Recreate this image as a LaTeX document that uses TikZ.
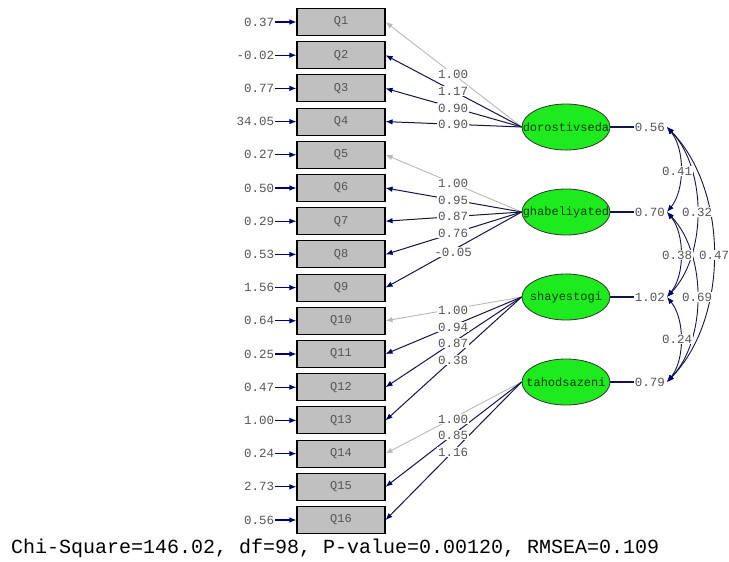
\documentclass[tikz,border=0pt]{standalone}
\usepackage{fontspec}
\newfontfamily\mono{Liberation Mono}
\usetikzlibrary{arrows.meta,shapes.geometric}
\definecolor{navy}{RGB}{0,0,110}
\definecolor{lnk}{RGB}{20,20,70}
\definecolor{lgray}{RGB}{185,185,185}
\definecolor{txtgray}{RGB}{85,85,85}
\definecolor{boxgray}{RGB}{192,192,192}
\definecolor{lvgreen}{RGB}{30,235,30}
\definecolor{lvtext}{RGB}{10,60,10}
\begin{document}
\begin{tikzpicture}[x=1pt,y=-1pt,
  obs/.style={draw=black,line width=1.1pt,fill=boxgray,minimum width=88pt,minimum height=27pt,inner sep=0pt,font=\mono\fontsize{12}{12}\selectfont,text=txtgray},
  lat/.style={draw=black!80,line width=0.8pt,fill=lvgreen,ellipse,minimum width=88pt,minimum height=46pt,inner sep=0pt,font=\mono\fontsize{12}{12}\selectfont,text=lvtext},
  num/.style={font=\mono\fontsize{12.5}{13}\selectfont,text=txtgray,inner sep=0.6pt},
  lab/.style={num,fill=white},
  load/.style={draw=lnk,line width=1pt,-{Latex[length=7pt,width=5.5pt,color=navy]}},
  fixed/.style={draw=lgray,line width=0.9pt,-{Latex[length=7pt,width=5.5pt,color=lgray]}},
  err/.style={draw=navy,line width=1.1pt,-{Latex[length=7pt,width=5.5pt,color=navy]}},
  cov/.style={draw=lnk,line width=0.9pt,{Latex[length=7pt,width=5.5pt,color=navy]}-{Latex[length=7pt,width=5.5pt,color=navy]}},
  var/.style={draw=lnk,line width=1.1pt}
]
\useasboundingbox (0,0) rectangle (729,562);
\fill[white] (0,0) rectangle (729,562);

% observed variables
\foreach \i/\e in {1/0.37,2/-0.02,3/0.77,4/34.05,5/0.27,6/0.50,7/0.29,8/0.53,9/1.56,10/0.64,11/0.25,12/0.47,13/1.00,14/0.24,15/2.73,16/0.56}{
  \pgfmathsetmacro{\yy}{22+33.2*(\i-1)}
  \node[obs] (Q\i) at (341,\yy) {Q\i};
  \node[num,anchor=east] (e\i) at (275,\yy) {\e};
  \draw[err] (e\i.east) -- (Q\i.west);
}

% latent variables
\node[lat] (F1) at (566,127) {\makebox[0pt]{dorostivseda}};
\node[lat] (F2) at (566,212) {\makebox[0pt]{ghabeliyated}};
\node[lat] (F3) at (566,297) {\makebox[0pt]{shayestogi}};
\node[lat] (F4) at (566,382) {\makebox[0pt]{tahodsazeni}};

% loadings
\draw[fixed] (F1.west) -- (Q1.east);
\foreach \q in {2,3,4}{\draw[load] (F1.west) -- (Q\q.east);}
\draw[fixed] (F2.west) -- (Q5.east);
\foreach \q in {6,7,8,9}{\draw[load] (F2.west) -- (Q\q.east);}
\draw[fixed] (F3.west) -- (Q10.east);
\foreach \q in {11,12,13}{\draw[load] (F3.west) -- (Q\q.east);}
\draw[fixed] (F4.west) -- (Q14.east);
\foreach \q in {15,16}{\draw[load] (F4.west) -- (Q\q.east);}

% loading labels
\node[lab] (l1) at (453,74) {1.00};
\node[lab] (l2) at (453,91) {1.17};
\node[lab] (l3) at (453,108) {0.90};
\node[lab] (l4) at (453,124) {0.90};
\node[lab] (l5) at (453,183) {1.00};
\node[lab] (l6) at (453,200) {0.95};
\node[lab] (l7) at (453,216) {0.87};
\node[lab] (l8) at (453,233) {0.76};
\node[lab] (l9) at (453,252) {-0.05};
\node[lab] (l10) at (453,310) {1.00};
\node[lab] (l11) at (453,327) {0.94};
\node[lab] (l12) at (453,343) {0.87};
\node[lab] (l13) at (453,360) {0.38};
\node[lab] (l14) at (453,419) {1.00};
\node[lab] (l15) at (453,435) {0.85};
\node[lab] (l16) at (453,452) {1.16};

% variances
\node[num,anchor=west] (v1) at (634,127) {0.56};
\node[num,anchor=west] (v2) at (634,212) {0.70};
\node[num,anchor=west] (v3) at (634,297) {1.02};
\node[num,anchor=west] (v4) at (634,382) {0.79};
\foreach \k in {1,2,3,4}{\draw[var] (F\k.east) -- (v\k.west);}
\coordinate (c1) at (667,127);
\coordinate (c2) at (667,212);
\coordinate (c3) at (667,297);
\coordinate (c4) at (667,382);

% covariances
\draw[cov] (c1) .. controls +(18,22) and +(18,-22) .. (c2);
\draw[cov] (c2) .. controls +(18,22) and +(18,-22) .. (c3);
\draw[cov] (c3) .. controls +(18,22) and +(18,-22) .. (c4);
\draw[cov] (c1) .. controls +(40,42) and +(40,-42) .. (c3);
\draw[cov] (c2) .. controls +(40,42) and +(40,-42) .. (c4);
\draw[cov] (c1) .. controls +(62,64) and +(62,-64) .. (c4);
\node[lab] (k12) at (677,171) {0.41};
\node[lab] (k23) at (677,255) {0.38};
\node[lab] (k34) at (677,339) {0.24};
\node[lab] (k13) at (697,212) {0.32};
\node[lab] (k24) at (697,297) {0.69};
\node[lab] (k14) at (714,255) {0.47};

% fit statistics
\node[anchor=west,inner sep=0pt,font=\mono\fontsize{20}{20}\selectfont,text=black] (fit) at (11,548) {Chi-Square=146.02, df=98, P-value=0.00120, RMSEA=0.109};
\end{tikzpicture}
\end{document}
